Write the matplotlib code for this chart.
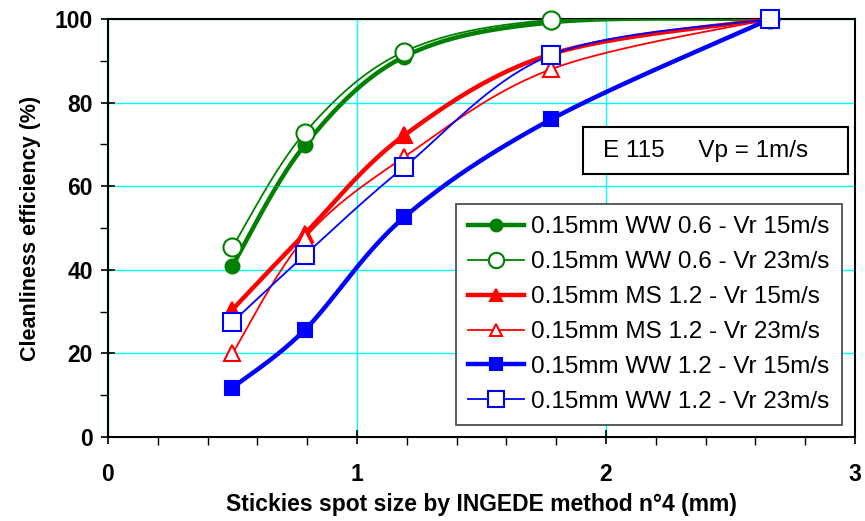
import numpy as np
import matplotlib
matplotlib.use("Agg")
import matplotlib.pyplot as plt
from matplotlib.patches import Rectangle
from matplotlib.ticker import MultipleLocator

# spot size (mm) and cleanliness efficiency (%)
x_pts = [0.5, 0.79, 1.19, 1.78, 2.66]

ww06_vr15 = [41.0, 69.8, 91.0, 99.2, 100.0]
ww06_vr23 = [45.5, 72.8, 92.2, 99.8, 100.0]
ms12_vr15 = [30.5, 48.6, 72.2, 91.6, 100.0]
ms12_vr23 = [20.0, 47.6, 67.0, 88.0, 100.0]
ww12_vr15 = [11.8, 25.6, 52.6, 76.0, 100.0]
ww12_vr23 = [27.5, 43.5, 64.6, 91.4, 100.0]

labels = [
    "0.15mm WW 0.6 - Vr 15m/s",
    "0.15mm WW 0.6 - Vr 23m/s",
    "0.15mm MS 1.2 - Vr 15m/s",
    "0.15mm MS 1.2 - Vr 23m/s",
    "0.15mm WW 1.2 - Vr 15m/s",
    "0.15mm WW 1.2 - Vr 23m/s",
]

FONT = ["Liberation Sans", "DejaVu Sans"]


def smooth(xs, ys, n=40):
    # excel-like smoothed line (catmull-rom bezier segments)
    p = np.column_stack([xs, ys]).astype(float)
    p = np.vstack([p[0], p, p[-1]])
    out = []
    t = np.linspace(0, 1, n)[:, None]
    for i in range(1, len(p) - 2):
        p0, p3 = p[i], p[i + 1]
        c1 = p0 + (p[i + 1] - p[i - 1]) / 6.0
        c2 = p3 - (p[i + 2] - p[i]) / 6.0
        seg = ((1 - t) ** 3) * p0 + 3 * ((1 - t) ** 2) * t * c1 \
            + 3 * (1 - t) * t ** 2 * c2 + t ** 3 * p3
        out.append(seg)
    out = np.vstack(out)
    return out[:, 0], out[:, 1]


fig = plt.figure(figsize=(8.65, 5.21), dpi=100)
ax = fig.add_axes([108 / 865, 84 / 521, 747 / 865, 418 / 521])

series = [
    (ww06_vr15, "#008000", "o", True, 3.2, 10),
    (ww06_vr23, "#008000", "o", False, 1.3, 13),
    (ms12_vr15, "#ff0000", "^", True, 3.2, 11),
    (ms12_vr23, "#ff0000", "^", False, 1.3, 11),
    (ww12_vr15, "#0000ff", "s", True, 3.2, 10),
    (ww12_vr23, "#0000ff", "s", False, 1.3, 13),
]

handles = []
for k, (yv, col, mk, filled, lw, ms) in enumerate(series):
    sx, sy = smooth(x_pts, yv)
    ax.plot(sx, sy, color=col, lw=lw, zorder=3 + k, solid_capstyle="round")
    face = col if filled else "white"
    ax.plot(x_pts, yv, ls="none", marker=mk, ms=ms, mfc=face, mec=col,
            mew=1.5, zorder=3 + k, clip_on=False)
    h, = ax.plot([], [], color=col, lw=lw, marker=mk, mfc=face, mec=col,
                 mew=1.5, ms=ms * 0.85)
    handles.append(h)

ax.set_xlim(0, 3)
ax.set_ylim(0, 100)
ax.xaxis.set_major_locator(MultipleLocator(1))
ax.xaxis.set_minor_locator(MultipleLocator(0.2))
ax.yaxis.set_major_locator(MultipleLocator(20))
ax.yaxis.set_minor_locator(MultipleLocator(10))
ax.grid(True, which="major", color="#00ffff", lw=1.0, zorder=1)
ax.set_axisbelow(True)

for sp in ax.spines.values():
    sp.set_color("black")
    sp.set_linewidth(1.5)

ax.tick_params(which="major", direction="inout", length=10, width=1.2,
               top=False, right=False)
ax.tick_params(which="minor", direction="out", length=6, width=1.0,
               top=False, right=False)
ax.tick_params(axis="y", which="major", pad=6)
ax.tick_params(axis="x", which="major", pad=14)

for lab in ax.get_yticklabels() + ax.get_xticklabels():
    lab.set_fontfamily(FONT)
    lab.set_fontweight("bold")
    lab.set_fontsize(16.5)

ax.set_ylabel("Cleanliness efficiency (%)", fontsize=15.5, fontweight="bold",
              family=FONT, labelpad=10)
ax.set_xlabel("Stickies spot size by INGEDE method n°4 (mm)", fontsize=16.5,
              fontweight="bold", family=FONT, labelpad=5)

leg = ax.legend(handles, labels, loc="lower right",
                bbox_to_anchor=(842 / 865, (521 - 425) / 521),
                bbox_transform=fig.transFigure, frameon=True, fancybox=False,
                edgecolor="#404040", framealpha=1, numpoints=1,
                handlelength=2.3, handletextpad=0.3, labelspacing=0.53,
                borderpad=0.5, borderaxespad=0,
                prop={"family": FONT, "size": 17.5})
leg.get_frame().set_linewidth(1.2)
leg.set_zorder(20)

# annotation box with the test conditions
box = Rectangle((583 / 865, (521 - 174) / 521), 265 / 865, 47 / 521,
                transform=fig.transFigure, fc="white", ec="black", lw=1.5,
                zorder=20)
fig.add_artist(box)
fig.text(706 / 865, (521 - 150.5) / 521, "E 115     Vp = 1m/s",
         fontsize=17.5, family=FONT, ha="center", va="center", zorder=21)

fig.savefig("out.png", dpi=100)
